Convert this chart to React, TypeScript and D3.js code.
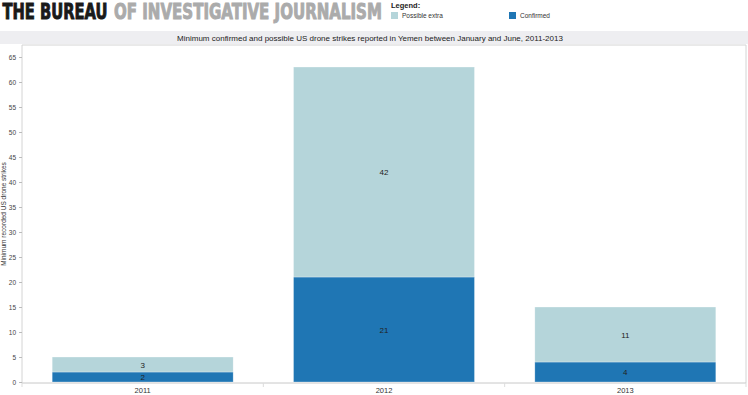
import React, { useEffect, useRef } from 'react';
import * as d3 from 'd3';

const years = ['2011', '2012', '2013'];
const confirmed = [2, 21, 4];
const possibleExtra = [3, 42, 11];
const yTicks = [0, 5, 10, 15, 20, 25, 30, 35, 40, 45, 50, 55, 60, 65];

const W = 748;
const H = 395;
const LIGHT = '#b5d5da';
const DARK = '#1f76b4';

const App = () => {
  const ref = useRef<SVGSVGElement>(null);

  useEffect(() => {
    if (!ref.current) return;
    const svg = d3.select(ref.current);
    svg.selectAll('*').remove();

    const font = '"Liberation Sans", Arial, sans-serif';
    const headFont = '"DejaVu Sans Condensed", "DejaVu Sans", sans-serif';

    // masthead: squeeze each word group to the width it takes in the original
    const fitText = (label: string, x0: number, width: number, color: string) => {
      const t = svg.append('text')
        .attr('font-family', headFont)
        .attr('font-weight', 'bold')
        .attr('font-size', 21)
        .attr('fill', color).attr('stroke', color).attr('stroke-width', 0.9)
        .text(label);
      const natural = (t.node() as SVGTextElement).getComputedTextLength() || width;
      t.attr('transform', `translate(${x0},19) scale(${width / natural},1)`);
    };
    fitText('THE BUREAU', 2.5, 105, '#1a1a1a');
    fitText('OF INVESTIGATIVE JOURNALISM', 114, 268, '#ababab');

    // legend
    const legend = svg.append('g').attr('font-family', font);
    legend.append('text')
      .attr('x', 391).attr('y', 8)
      .attr('font-size', 7.5).attr('font-weight', 'bold').attr('fill', '#222')
      .text('Legend:');
    const items = [
      { label: 'Possible extra', color: LIGHT, x: 391 },
      { label: 'Confirmed', color: DARK, x: 509 },
    ];
    items.forEach(it => {
      legend.append('rect')
        .attr('x', it.x).attr('y', 12).attr('width', 7).attr('height', 7)
        .attr('fill', it.color);
      legend.append('text')
        .attr('x', it.x + 11).attr('y', 18)
        .attr('font-size', 6.5).attr('fill', '#333')
        .text(it.label);
    });

    // title bar
    svg.append('rect')
      .attr('x', 0).attr('y', 31).attr('width', W).attr('height', 13)
      .attr('fill', '#eeeef1');
    svg.append('text')
      .attr('x', 370).attr('y', 40.5)
      .attr('text-anchor', 'middle')
      .attr('font-family', font).attr('font-size', 8).attr('fill', '#222')
      .text('Minimum confirmed and possible US drone strikes reported in Yemen between January and June, 2011-2013');

    const left = 22;
    const right = 746;
    const top = 45;
    const bottom = 383;

    const x = d3.scaleBand<string>()
      .domain(years)
      .range([left, right])
      .paddingInner(0.25)
      .paddingOuter(0.125);

    const y = d3.scaleLinear().domain([0, 65]).range([382, 57]);

    // plot frame
    svg.append('path')
      .attr('d', `M${left},${bottom}V${top}H${right}V${bottom}`)
      .attr('fill', 'none').attr('stroke', '#d4d4d4').attr('stroke-width', 1);

    // y axis
    const yAxis = svg.append('g')
      .attr('transform', `translate(${left},0)`)
      .call(d3.axisLeft(y).tickValues(yTicks).tickSize(3).tickPadding(3))
      .call(g => g.select('.domain').remove());
    yAxis.selectAll('.tick line').attr('stroke', '#bbb');
    yAxis.selectAll('.tick text')
      .attr('font-family', font).attr('font-size', 6.5).attr('fill', '#444');

    svg.append('text')
      .attr('transform', 'translate(6,214) rotate(-90)')
      .attr('text-anchor', 'middle')
      .attr('font-family', font).attr('font-size', 6.5).attr('fill', '#333')
      .text('Minimum recorded US drone strikes');

    // stacked bars
    const rows = years.map((yr, i) => ({ year: yr, confirmed: confirmed[i], extra: possibleExtra[i] }));
    const stack = d3.stack<any>().keys(['confirmed', 'extra'])(rows);
    const colors: Record<string, string> = { confirmed: DARK, extra: LIGHT };

    stack.forEach(layer => {
      const g = svg.append('g');
      g.selectAll('rect')
        .data(layer)
        .join('rect')
        .attr('x', d => x(d.data.year)!)
        .attr('width', x.bandwidth())
        .attr('y', d => y(d[1]))
        .attr('height', d => y(d[0]) - y(d[1]))
        .attr('fill', colors[layer.key])
        .attr('stroke', 'rgba(255,255,255,0.5)')
        .attr('stroke-width', 0.6);
      g.selectAll('text')
        .data(layer)
        .join('text')
        .attr('x', d => x(d.data.year)! + x.bandwidth() / 2)
        .attr('y', d => (y(d[0]) + y(d[1])) / 2 + 3)
        .attr('text-anchor', 'middle')
        .attr('font-family', font).attr('font-size', 8).attr('fill', '#222')
        .text(d => String(d[1] - d[0]));
    });

    // x axis
    svg.append('line')
      .attr('x1', left).attr('x2', right).attr('y1', bottom).attr('y2', bottom)
      .attr('stroke', '#c8c8c8');
    const step = x.step();
    d3.range(years.length + 1).forEach(i => {
      const bx = left + i * step;
      svg.append('line')
        .attr('x1', bx).attr('x2', bx).attr('y1', bottom).attr('y2', bottom + 4)
        .attr('stroke', '#ddd');
    });
    svg.append('g')
      .selectAll('text')
      .data(years)
      .join('text')
      .attr('x', d => x(d)! + x.bandwidth() / 2)
      .attr('y', 393)
      .attr('text-anchor', 'middle')
      .attr('font-family', font).attr('font-size', 7.5).attr('fill', '#333')
      .text(d => d);
  }, []);

  return (
    <svg
      ref={ref}
      width={W}
      height={H}
      style={{ position: 'absolute', left: 0, top: 0, background: '#fff' }}
    />
  );
};

export default App;
